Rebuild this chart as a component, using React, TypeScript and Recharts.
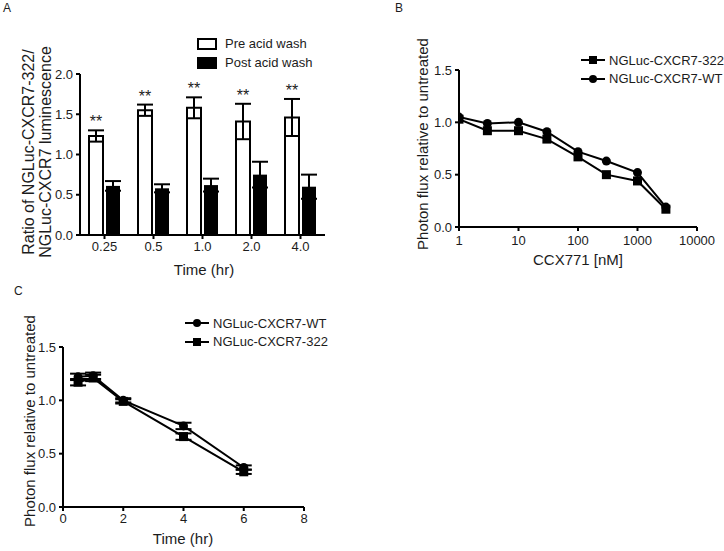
import React from 'react';
import { BarChart, Bar, LineChart, Line, XAxis, YAxis, ErrorBar, LabelList, Legend } from 'recharts';

// Panel A: ratio before / after acid wash
const timeLabels = ['0.25', '0.5', '1.0', '2.0', '4.0'];
const preAcid = [1.23, 1.55, 1.58, 1.41, 1.46];
const preAcidErr = [0.07, 0.07, 0.13, 0.22, 0.23];
const postAcid = [0.61, 0.58, 0.62, 0.75, 0.6];
const postAcidErr = [0.06, 0.05, 0.08, 0.16, 0.15];
const ratioTicks = [0, 0.5, 1, 1.5, 2];

// Panel B: CCX771 dose response
const doses = [1, 3, 10, 30, 100, 300, 1000, 3000];
const flux322 = [1.03, 0.92, 0.92, 0.84, 0.67, 0.5, 0.44, 0.17];
const fluxWT = [1.05, 0.99, 1.0, 0.91, 0.72, 0.63, 0.52, 0.19];
const doseTicks = [1, 10, 100, 1000, 10000];

// Panel C: time course
const hours = [0.5, 1, 2, 4, 6];
const timeWT = [1.22, 1.23, 1.0, 0.76, 0.37];
const timeWTErr = [0.03, 0.03, 0.02, 0.03, 0.02];
const time322 = [1.17, 1.21, 0.99, 0.66, 0.33];
const time322Err = [0.03, 0.03, 0.02, 0.03, 0.02];
const hourTicks = [0, 2, 4, 6, 8];
const fluxTicks = [0, 0.5, 1, 1.5];

const FONT = '"Liberation Sans", Arial, sans-serif';
const INK = '#1c1c1c';

const barData = timeLabels.map((t, i) => ({
  t,
  pre: preAcid[i],
  preErr: preAcidErr[i],
  post: postAcid[i],
  postErr: postAcidErr[i],
}));
const doseData = doses.map((d, i) => ({ dose: d, m322: flux322[i], wt: fluxWT[i] }));
const hourData = hours.map((h, i) => ({
  h,
  wt: timeWT[i],
  wtErr: timeWTErr[i],
  m322: time322[i],
  m322Err: time322Err[i],
}));

const axisLine = { stroke: '#000', strokeWidth: 2 };
const tickStyle = { fill: INK, fontSize: 13, fontFamily: FONT };
const fmt1 = (v: number) => v.toFixed(1);

const SquareDot = (props: any) => {
  const { cx, cy, index } = props;
  if (cx == null || cy == null) return <g key={`sq-${index}`} />;
  return <rect key={`sq-${index}`} x={cx - 4.5} y={cy - 4.5} width={9} height={9} fill="#000" />;
};

const CircleDot = (props: any) => {
  const { cx, cy, index } = props;
  if (cx == null || cy == null) return <g key={`ci-${index}`} />;
  return <circle key={`ci-${index}`} cx={cx} cy={cy} r={4.5} fill="#000" />;
};

// "**" above each pre-wash error bar
const StarLabel = (props: any) => {
  const vb = props.viewBox || props;
  const x = vb.x ?? props.x;
  const y = vb.y ?? props.y;
  const width = vb.width ?? props.width;
  const height = vb.height ?? props.height;
  const idx = props.index ?? 0;
  const value = Number(props.value) || preAcid[idx];
  const pxPerUnit = height / value;
  const top = y - preAcidErr[idx] * pxPerUnit;
  return (
    <text x={x + width / 2} y={top - 3} textAnchor="middle" fontSize={16} fontFamily={FONT} fill={INK}>
      **
    </text>
  );
};

const BarLegend = () => (
  <div style={{ fontFamily: FONT, fontSize: 13, color: INK, whiteSpace: 'nowrap' }}>
    {[
      { label: 'Pre acid wash', fill: '#fff' },
      { label: 'Post acid wash', fill: '#000' },
    ].map((it) => (
      <div key={it.label} style={{ display: 'flex', alignItems: 'center', height: 19 }}>
        <svg width={20} height={12}>
          <rect x={1} y={1} width={18} height={10} fill={it.fill} stroke="#000" strokeWidth={2} />
        </svg>
        <span style={{ marginLeft: 8 }}>{it.label}</span>
      </div>
    ))}
  </div>
);

const LineLegend = ({ items }: { items: { label: string; marker: 'square' | 'circle' }[] }) => (
  <div style={{ fontFamily: FONT, fontSize: 13, color: INK, whiteSpace: 'nowrap' }}>
    {items.map((it) => (
      <div key={it.label} style={{ display: 'flex', alignItems: 'center', height: 18.5 }}>
        <svg width={24} height={12}>
          <line x1={0} x2={24} y1={6} y2={6} stroke="#000" strokeWidth={2} />
          {it.marker === 'square' ? (
            <rect x={8} y={2} width={8} height={8} fill="#000" />
          ) : (
            <circle cx={12} cy={6} r={4} fill="#000" />
          )}
        </svg>
        <span style={{ marginLeft: 4 }}>{it.label}</span>
      </div>
    ))}
  </div>
);

const Text = ({ x, y, size = 15, rotate = false, children }: any) => (
  <div
    style={{
      position: 'absolute',
      left: x,
      top: y,
      transform: `translate(-50%, -50%)${rotate ? ' rotate(-90deg)' : ''}`,
      whiteSpace: 'nowrap',
      fontFamily: FONT,
      fontSize: size,
      lineHeight: '17px',
      color: INK,
      textAlign: 'center',
    }}
  >
    {children}
  </div>
);

export default function App() {
  return (
    <div style={{ position: 'fixed', left: 0, top: 0, width: 724, height: 551, background: '#fff', overflow: 'hidden' }}>
      {/* Panel A */}
      <div style={{ position: 'absolute', left: 0, top: 0 }}>
        <BarChart
          width={360}
          height={280}
          data={barData}
          margin={{ top: 74, right: 35, left: 0, bottom: 15 }}
          barSize={14}
          barGap={3}
        >
          <XAxis
            dataKey="t"
            height={30}
            axisLine={axisLine}
            tickLine={axisLine}
            tickSize={4}
            tickMargin={3}
            tick={tickStyle}
          />
          <YAxis
            width={80}
            domain={[0, 2]}
            ticks={ratioTicks}
            tickFormatter={fmt1}
            axisLine={axisLine}
            tickLine={axisLine}
            tickSize={4}
            tickMargin={3}
            tick={tickStyle}
          />
          <Legend
            layout="vertical"
            align="center"
            verticalAlign="middle"
            wrapperStyle={{ left: 197, top: 34, width: 'auto' }}
            content={() => <BarLegend />}
          />
          <Bar dataKey="pre" fill="#fff" stroke="#000" strokeWidth={2} isAnimationActive={false}>
            <ErrorBar dataKey="preErr" width={8} stroke="#000" strokeWidth={2} direction="y" />
            <LabelList dataKey="pre" content={StarLabel} />
          </Bar>
          <Bar dataKey="post" fill="#000" isAnimationActive={false}>
            <ErrorBar dataKey="postErr" width={8} stroke="#000" strokeWidth={2} direction="y" />
          </Bar>
        </BarChart>
      </div>

      {/* Panel B */}
      <div style={{ position: 'absolute', left: 360, top: 0 }}>
        <LineChart width={364} height={280} data={doseData} margin={{ top: 70, right: 27, left: 0, bottom: 23 }}>
          <XAxis
            dataKey="dose"
            type="number"
            scale="log"
            domain={[1, 10000]}
            ticks={doseTicks}
            allowDataOverflow
            height={30}
            axisLine={axisLine}
            tickLine={axisLine}
            tickSize={4}
            tickMargin={5}
            tick={tickStyle}
          />
          <YAxis
            width={99}
            domain={[0, 1.5]}
            ticks={fluxTicks}
            tickFormatter={fmt1}
            axisLine={axisLine}
            tickLine={axisLine}
            tickSize={4}
            tickMargin={3}
            tick={tickStyle}
          />
          <Legend
            layout="vertical"
            align="center"
            verticalAlign="middle"
            wrapperStyle={{ left: 221, top: 51, width: 'auto' }}
            content={() => (
              <LineLegend
                items={[
                  { label: 'NGLuc-CXCR7-322', marker: 'square' },
                  { label: 'NGLuc-CXCR7-WT', marker: 'circle' },
                ]}
              />
            )}
          />
          <Line type="linear" dataKey="m322" stroke="#000" strokeWidth={2} dot={SquareDot} activeDot={false} isAnimationActive={false} />
          <Line type="linear" dataKey="wt" stroke="#000" strokeWidth={2} dot={CircleDot} activeDot={false} isAnimationActive={false} />
        </LineChart>
      </div>

      {/* Panel C */}
      <div style={{ position: 'absolute', left: 0, top: 280 }}>
        <LineChart width={360} height={271} data={hourData} margin={{ top: 67, right: 56, left: 0, bottom: 14 }}>
          <XAxis
            dataKey="h"
            type="number"
            domain={[0, 8]}
            ticks={hourTicks}
            height={30}
            axisLine={axisLine}
            tickLine={axisLine}
            tickSize={4}
            tickMargin={3}
            tick={tickStyle}
          />
          <YAxis
            width={63}
            domain={[0, 1.5]}
            ticks={fluxTicks}
            tickFormatter={fmt1}
            axisLine={axisLine}
            tickLine={axisLine}
            tickSize={4}
            tickMargin={3}
            tick={tickStyle}
          />
          <Legend
            layout="vertical"
            align="center"
            verticalAlign="middle"
            wrapperStyle={{ left: 185, top: 34, width: 'auto' }}
            content={() => (
              <LineLegend
                items={[
                  { label: 'NGLuc-CXCR7-WT', marker: 'circle' },
                  { label: 'NGLuc-CXCR7-322', marker: 'square' },
                ]}
              />
            )}
          />
          <Line type="linear" dataKey="wt" stroke="#000" strokeWidth={2} dot={CircleDot} activeDot={false} isAnimationActive={false}>
            <ErrorBar dataKey="wtErr" width={8} stroke="#000" strokeWidth={2} direction="y" />
          </Line>
          <Line type="linear" dataKey="m322" stroke="#000" strokeWidth={2} dot={SquareDot} activeDot={false} isAnimationActive={false}>
            <ErrorBar dataKey="m322Err" width={8} stroke="#000" strokeWidth={2} direction="y" />
          </Line>
        </LineChart>
      </div>

      {/* panel letters and axis titles */}
      <div style={{ position: 'absolute', left: 3, top: 1, fontFamily: FONT, fontSize: 12, color: INK }}>A</div>
      <div style={{ position: 'absolute', left: 395, top: 1, fontFamily: FONT, fontSize: 12, color: INK }}>B</div>
      <div style={{ position: 'absolute', left: 14, top: 284, fontFamily: FONT, fontSize: 12, color: INK }}>C</div>

      <Text x={36.5} y={152} size={16} rotate>
        Ratio of NGLuc-CXCR7-322/
        <br />
        NGLuc-CXCR7 luminescence
      </Text>
      <Text x={204} y={269}>Time (hr)</Text>

      <Text x={421.5} y={144} rotate>Photon flux relative to untreated</Text>
      <Text x={578} y={259}>CCX771 [nM]</Text>

      <Text x={28.5} y={421} rotate>Photon flux relative to untreated</Text>
      <Text x={183} y={538}>Time (hr)</Text>
    </div>
  );
}
